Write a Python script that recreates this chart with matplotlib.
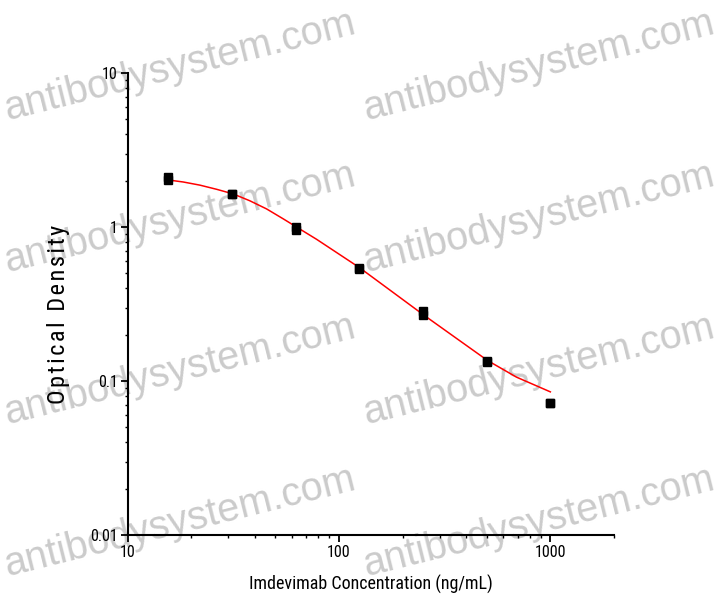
import os
import matplotlib
matplotlib.use("Agg")
import matplotlib.pyplot as plt
from matplotlib import font_manager
from matplotlib.ft2font import FT2Font
from matplotlib.ticker import FuncFormatter, LogLocator

# concentrations (ng/mL), two replicate ODs each
conc = [15.625, 31.25, 62.5, 125, 250, 500, 1000]
od_rep1 = [2.10, 1.64, 1.00, 0.545, 0.285, 0.134, 0.072]
od_rep2 = [2.02, 1.63, 0.96, 0.535, 0.270, 0.132, 0.072]

# fitted curve
curve_x = [15.6, 18.35, 22, 26.4, 31.6, 37.9, 45.5, 54.5, 63, 78.4, 125, 174, 252, 360, 504, 691, 1000]
curve_y = [2.02, 1.96, 1.87, 1.757, 1.64, 1.48, 1.31, 1.13, 1.00, 0.832, 0.545, 0.39, 0.268, 0.189, 0.136, 0.106, 0.085]

x_ticks = [10, 100, 1000]
y_ticks = [0.01, 0.1, 1, 10]

wm_text = "antibodysystem.com"
wm_x = [180, 539]
wm_y = [66, 218, 370, 522]


def pick_font(files):
    by_base = {os.path.basename(f.fname): f.fname for f in font_manager.fontManager.ttflist}
    for b in files:
        if b in by_base:
            return by_base[b]
    return None


narrow_file = pick_font(["LiberationSansNarrow-Regular.ttf", "NotoSans-Condensed.ttf",
                         "RobotoCondensed-Regular.ttf", "NotoSans-SemiCondensed.ttf",
                         "DejaVuSansCondensed.ttf"])
if narrow_file:
    def fp(size):
        return font_manager.FontProperties(fname=narrow_file, size=size)
    has_hair = FT2Font(narrow_file).get_char_index(0x200A) != 0
else:
    def fp(size):
        return font_manager.FontProperties(family="DejaVu Sans", stretch="condensed", size=size)
    has_hair = True

W, H = 719, 613
fig = plt.figure(figsize=(W / 100, H / 100), dpi=100)

# watermark
for yy in wm_y:
    for xx in wm_x:
        fig.text(xx / W, 1 - yy / H, wm_text, rotation=14, ha="center", va="center",
                 fontsize=28.5, color="#cbcbcb", family=["Liberation Sans", "DejaVu Sans"])

ax = fig.add_axes([127.5 / W, 1 - 535 / H, (614 - 127.5) / W, (535 - 73) / H])
ax.set_zorder(5)
ax.patch.set_alpha(0)

ax.plot(curve_x, curve_y, color="red", lw=1.1, zorder=2)
ax.plot(conc, od_rep1, "s", color="black", ms=6.2, zorder=3)
ax.plot(conc, od_rep2, "s", color="black", ms=6.2, zorder=3)

ax.set_xscale("log")
ax.set_yscale("log")
ax.set_xlim(10, 2000)
ax.set_ylim(0.01, 10)

ax.set_xticks(x_ticks)
ax.set_yticks(y_ticks)
fmt = FuncFormatter(lambda v, p: "%g" % v)
ax.xaxis.set_major_formatter(fmt)
ax.yaxis.set_major_formatter(fmt)
ax.xaxis.set_minor_locator(LogLocator(base=10, subs=range(2, 10)))
ax.yaxis.set_minor_locator(LogLocator(base=10, subs=range(2, 10)))
ax.xaxis.set_minor_formatter(FuncFormatter(lambda v, p: ""))
ax.yaxis.set_minor_formatter(FuncFormatter(lambda v, p: ""))

ax.tick_params(which="major", direction="out", length=5, width=1.3, pad=2)
ax.tick_params(which="minor", direction="out", length=2.5, width=1.0)
for lbl in ax.get_xticklabels() + ax.get_yticklabels():
    lbl.set_fontproperties(fp(11.5))

for s in ["top", "right"]:
    ax.spines[s].set_visible(False)
for s in ["left", "bottom"]:
    ax.spines[s].set_linewidth(1.5)

ylab = "Optical Density"
if has_hair:
    ylab = "\u200a".join(ylab)
ax.set_xlabel("Imdevimab Concentration (ng/mL)", fontproperties=fp(13), labelpad=11)
ax.set_ylabel(ylab, fontproperties=fp(17.5))
ax.yaxis.set_label_coords(-0.118, 0.478)

fig.savefig("out.png", dpi=100)
